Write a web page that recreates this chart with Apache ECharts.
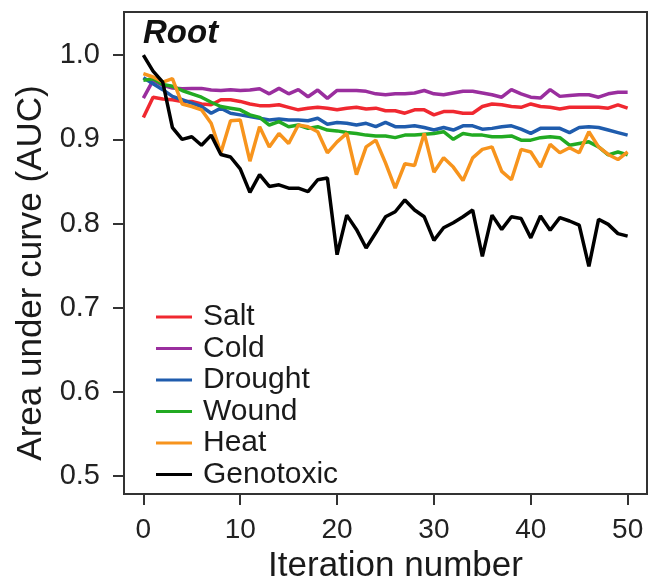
<!DOCTYPE html>
<html><head><meta charset="utf-8">
<script src="https://cdn.jsdelivr.net/npm/echarts@6/dist/echarts.min.js"></script>
<style>html,body{margin:0;padding:0;background:#fff}#c{width:651px;height:579px}</style>
</head><body><div id="c"></div>
<script>
const iterations = [0,1,2,3,4,5,6,7,8,9,10,11,12,13,14,15,16,17,18,19,20,21,22,23,24,25,26,27,28,29,30,31,32,33,34,35,36,37,38,39,40,41,42,43,44,45,46,47,48,49,50];
const seriesNames = ['Salt','Cold','Drought','Wound','Heat','Genotoxic'];
const salt = [0.926,0.950,0.948,0.947,0.945,0.945,0.942,0.941,0.947,0.947,0.945,0.942,0.940,0.940,0.941,0.938,0.935,0.937,0.938,0.937,0.935,0.937,0.938,0.936,0.937,0.934,0.934,0.931,0.935,0.935,0.929,0.933,0.933,0.931,0.931,0.939,0.942,0.941,0.939,0.938,0.942,0.939,0.938,0.936,0.938,0.938,0.938,0.938,0.937,0.941,0.937];
const cold = [0.949,0.970,0.964,0.961,0.960,0.9605,0.9605,0.9585,0.958,0.959,0.958,0.9585,0.960,0.954,0.9605,0.954,0.959,0.9506,0.9585,0.9487,0.958,0.958,0.958,0.957,0.954,0.953,0.954,0.954,0.955,0.958,0.954,0.953,0.955,0.957,0.957,0.955,0.953,0.950,0.959,0.954,0.950,0.949,0.959,0.951,0.952,0.953,0.953,0.950,0.954,0.956,0.956];
const drought = [0.973,0.966,0.959,0.951,0.947,0.943,0.939,0.931,0.937,0.931,0.929,0.927,0.925,0.923,0.924,0.923,0.923,0.922,0.925,0.918,0.920,0.919,0.917,0.919,0.915,0.920,0.915,0.915,0.916,0.914,0.911,0.914,0.911,0.916,0.916,0.912,0.913,0.915,0.916,0.912,0.907,0.913,0.913,0.913,0.908,0.914,0.915,0.914,0.911,0.908,0.905];
const wound = [0.970,0.972,0.965,0.963,0.958,0.954,0.950,0.944,0.939,0.937,0.935,0.929,0.926,0.917,0.921,0.915,0.917,0.913,0.915,0.911,0.910,0.908,0.907,0.905,0.904,0.904,0.902,0.905,0.905,0.906,0.907,0.909,0.900,0.907,0.905,0.905,0.903,0.903,0.904,0.899,0.899,0.902,0.903,0.902,0.893,0.895,0.897,0.891,0.8815,0.885,0.8815];
const heat = [0.978,0.974,0.968,0.972,0.942,0.939,0.935,0.919,0.884,0.922,0.923,0.874,0.915,0.891,0.907,0.895,0.917,0.915,0.909,0.884,0.897,0.907,0.858,0.891,0.899,0.872,0.842,0.871,0.869,0.907,0.861,0.878,0.867,0.851,0.878,0.888,0.891,0.862,0.852,0.888,0.885,0.867,0.894,0.884,0.890,0.884,0.909,0.891,0.882,0.876,0.885];
const genotoxic = [1.000,0.981,0.968,0.914,0.900,0.903,0.893,0.905,0.882,0.879,0.865,0.837,0.858,0.844,0.846,0.842,0.842,0.838,0.852,0.854,0.763,0.810,0.793,0.771,0.789,0.808,0.814,0.828,0.816,0.808,0.780,0.795,0.801,0.808,0.816,0.761,0.810,0.793,0.808,0.806,0.783,0.809,0.792,0.807,0.803,0.798,0.749,0.805,0.799,0.788,0.785];
const xTicks = [0,10,20,30,40,50];
const yTicks = [0.5,0.6,0.7,0.8,0.9,1.0];
const colors = ['#F02830','#9A2E9E','#1F5CAD','#22AA22','#F7941D','#000000'];
const allValues = [salt,cold,drought,wound,heat,genotoxic];

const FONT = "'Liberation Sans', Arial, Helvetica, sans-serif";
const chart = echarts.init(document.getElementById('c'), null, {renderer:'canvas'});
chart.setOption({
  animation:false,
  backgroundColor:'#fff',
  title:{text:'Root', left:138, top:12, textStyle:{fontFamily:FONT, fontSize:33, fontWeight:'bold', fontStyle:'italic', color:'#111'}},
  grid:{left:124, right:4, top:12, bottom:85, show:true, borderColor:'#333', borderWidth:2, backgroundColor:'transparent', containLabel:false, outerBoundsMode:'none'},
  legend:{
    data:seriesNames, orient:'vertical', left:151, top:297, icon:'rect', itemWidth:36, itemHeight:3, itemGap:1.5,
    textStyle:{fontFamily:FONT, fontSize:30, color:'#1a1a1a', lineHeight:30, padding:[0,0,0,6]}
  },
  xAxis:{
    type:'value', min:-2, max:52,
    name:'Iteration number', nameLocation:'middle', nameGap:44,
    nameTextStyle:{fontFamily:FONT, fontSize:35, color:'#1a1a1a', padding:[0,0,0,20]},
    axisLine:{show:true, onZero:false, lineStyle:{color:'#333', width:2}},
    axisTick:{show:true, length:11, lineStyle:{color:'#333', width:2}, customValues:xTicks},
    axisLabel:{fontFamily:FONT, fontSize:28, color:'#222', margin:22, customValues:xTicks},
    splitLine:{show:false}
  },
  yAxis:{
    type:'value', min:0.4788, max:1.0512,
    name:'Area under curve (AUC)', nameLocation:'middle', nameGap:72,
    nameTextStyle:{fontFamily:FONT, fontSize:35, color:'#1a1a1a', padding:[0,40,0,0]},
    axisLine:{show:true, onZero:false, lineStyle:{color:'#333', width:2}},
    axisTick:{show:true, length:11, lineStyle:{color:'#333', width:2}, customValues:yTicks},
    axisLabel:{fontFamily:FONT, fontSize:29, color:'#222', margin:24, customValues:yTicks, formatter:v=>v.toFixed(1)},
    splitLine:{show:false}
  },
  series: seriesNames.map((n,k)=>({
    name:n, type:'line', symbol:'none', color:colors[k],
    lineStyle:{width:3.5, color:colors[k]},
    data: iterations.map((x,i)=>[x, allValues[k][i]])
  }))
});
</script></body></html>
